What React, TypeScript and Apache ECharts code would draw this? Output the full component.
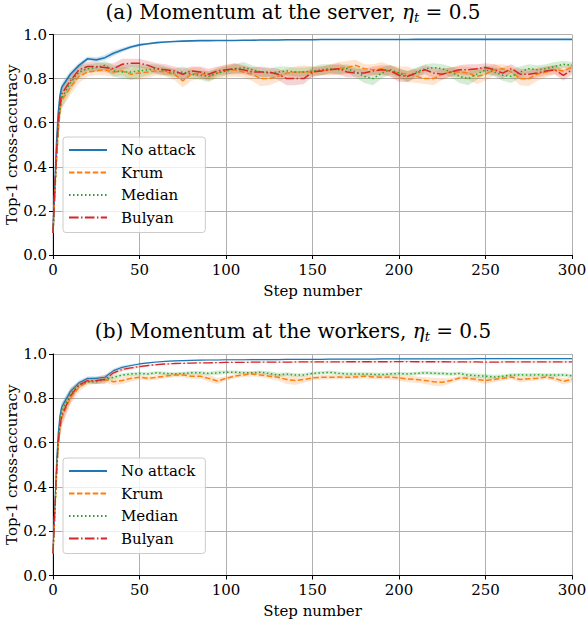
import * as echarts from 'echarts';
import { useEffect, useRef } from 'react';

// x positions of the recorded points (step number)
const STEPS = [
  0, 1, 2, 3, 4, 5, 10, 15, 20, 25,
  30, 35, 40, 45, 50, 55, 60, 65, 70, 75,
  80, 85, 90, 95, 100, 105, 110, 115, 120, 125,
  130, 135, 140, 145, 150, 155, 160, 165, 170, 175,
  180, 185, 190, 195, 200, 205, 210, 215, 220, 225,
  230, 235, 240, 245, 250, 255, 260, 265, 270, 275,
  280, 285, 290, 295, 300,
];

const METHODS = ['No attack', 'Krum', 'Median', 'Bulyan'];
const COLORS = ['#1f77b4', '#ff7f0e', '#2ca02c', '#d62728'];
const BAND_COLORS = ['rgba(31,119,180,0.2)', 'rgba(255,127,14,0.2)', 'rgba(44,160,44,0.2)', 'rgba(214,39,40,0.2)'];
const DASHES: any[] = ['solid', [5.5, 2.4], [1.5, 2.5], [9.6, 2.4, 1.5, 2.4]];

// (a) momentum at the server
const noAttackA = [
  0.10, 0.30, 0.50, 0.64, 0.72, 0.76, 0.82, 0.86, 0.89, 0.885,
  0.895, 0.915, 0.93, 0.943, 0.953, 0.958, 0.963, 0.966, 0.968, 0.970,
  0.971, 0.972, 0.972, 0.973, 0.973, 0.973, 0.974, 0.974, 0.975, 0.975,
  0.975, 0.976, 0.976, 0.976, 0.976, 0.977, 0.977, 0.977, 0.977, 0.977,
  0.977, 0.977, 0.977, 0.977, 0.977, 0.977, 0.978, 0.978, 0.978, 0.978,
  0.978, 0.978, 0.978, 0.978, 0.978, 0.978, 0.978, 0.978, 0.978, 0.978,
  0.978, 0.978, 0.978, 0.978, 0.978,
];
const noAttackSpreadA = [
  0, 0.02, 0.03, 0.03, 0.025, 0.02, 0.015, 0.012, 0.01, 0.012,
  0.012, 0.012, 0.01, 0.008, 0.006, 0.005, 0.004, 0.003, 0.003, 0.003,
  0.002, 0.002, 0.002, 0.002, 0.002, 0.002, 0.002, 0.002, 0.002, 0.002,
  0.002, 0.002, 0.002, 0.002, 0.002, 0.002, 0.002, 0.002, 0.002, 0.002,
  0.002, 0.002, 0.002, 0.002, 0.002, 0.002, 0.002, 0.002, 0.002, 0.002,
  0.002, 0.002, 0.002, 0.002, 0.002, 0.002, 0.002, 0.002, 0.002, 0.002,
  0.002, 0.002, 0.002, 0.002, 0.002,
];
const krumA = [
  0.10, 0.27, 0.42, 0.55, 0.65, 0.70, 0.76, 0.81, 0.83, 0.835,
  0.84, 0.83, 0.835, 0.82, 0.825, 0.83, 0.835, 0.83, 0.82, 0.79,
  0.82, 0.825, 0.81, 0.825, 0.835, 0.84, 0.83, 0.82, 0.80, 0.80,
  0.81, 0.825, 0.83, 0.83, 0.83, 0.835, 0.84, 0.845, 0.85, 0.86,
  0.845, 0.84, 0.845, 0.835, 0.825, 0.82, 0.81, 0.80, 0.80, 0.82,
  0.83, 0.83, 0.825, 0.81, 0.82, 0.84, 0.845, 0.83, 0.80, 0.80,
  0.82, 0.83, 0.84, 0.835, 0.85,
];
const krumSpreadA = [
  0, 0.02, 0.03, 0.04, 0.04, 0.04, 0.035, 0.03, 0.02, 0.02,
  0.025, 0.02, 0.02, 0.025, 0.03, 0.025, 0.02, 0.02, 0.025, 0.03,
  0.03, 0.025, 0.02, 0.025, 0.03, 0.03, 0.025, 0.03, 0.035, 0.03,
  0.025, 0.02, 0.025, 0.03, 0.025, 0.02, 0.025, 0.03, 0.03, 0.025,
  0.02, 0.025, 0.03, 0.025, 0.03, 0.035, 0.03, 0.025, 0.03, 0.025,
  0.02, 0.025, 0.03, 0.035, 0.03, 0.025, 0.02, 0.025, 0.03, 0.035,
  0.03, 0.025, 0.02, 0.025, 0.02,
];
const medianA = [
  0.10, 0.28, 0.44, 0.58, 0.66, 0.71, 0.78, 0.83, 0.845, 0.85,
  0.86, 0.835, 0.83, 0.83, 0.835, 0.84, 0.845, 0.835, 0.825, 0.83,
  0.82, 0.815, 0.81, 0.825, 0.835, 0.845, 0.85, 0.84, 0.83, 0.825,
  0.83, 0.835, 0.83, 0.83, 0.835, 0.84, 0.845, 0.84, 0.845, 0.83,
  0.81, 0.80, 0.825, 0.84, 0.825, 0.81, 0.83, 0.845, 0.85, 0.845,
  0.83, 0.81, 0.80, 0.82, 0.84, 0.83, 0.815, 0.81, 0.83, 0.845,
  0.84, 0.845, 0.855, 0.865, 0.86,
];
const medianSpreadA = [
  0, 0.02, 0.03, 0.04, 0.045, 0.045, 0.04, 0.03, 0.02, 0.02,
  0.02, 0.025, 0.03, 0.035, 0.03, 0.025, 0.02, 0.02, 0.02, 0.025,
  0.02, 0.02, 0.025, 0.02, 0.02, 0.02, 0.025, 0.02, 0.02, 0.02,
  0.025, 0.02, 0.02, 0.02, 0.02, 0.025, 0.02, 0.02, 0.02, 0.025,
  0.03, 0.03, 0.025, 0.02, 0.02, 0.025, 0.02, 0.02, 0.02, 0.02,
  0.025, 0.03, 0.03, 0.025, 0.02, 0.02, 0.025, 0.03, 0.025, 0.02,
  0.02, 0.02, 0.02, 0.015, 0.015,
];
const bulyanA = [
  0.10, 0.29, 0.46, 0.60, 0.68, 0.73, 0.79, 0.84, 0.855, 0.855,
  0.85, 0.845, 0.865, 0.87, 0.87, 0.86, 0.845, 0.84, 0.835, 0.82,
  0.835, 0.83, 0.82, 0.835, 0.84, 0.845, 0.84, 0.83, 0.83, 0.83,
  0.82, 0.80, 0.80, 0.80, 0.83, 0.835, 0.84, 0.845, 0.83, 0.825,
  0.825, 0.835, 0.84, 0.835, 0.815, 0.81, 0.825, 0.84, 0.825, 0.82,
  0.83, 0.84, 0.84, 0.845, 0.85, 0.84, 0.825, 0.845, 0.82, 0.82,
  0.825, 0.835, 0.84, 0.815, 0.84,
];
const bulyanSpreadA = [
  0, 0.02, 0.03, 0.035, 0.035, 0.03, 0.03, 0.025, 0.02, 0.02,
  0.02, 0.025, 0.025, 0.02, 0.02, 0.02, 0.025, 0.025, 0.02, 0.025,
  0.02, 0.025, 0.025, 0.02, 0.02, 0.025, 0.02, 0.02, 0.025, 0.02,
  0.025, 0.03, 0.03, 0.025, 0.02, 0.02, 0.02, 0.025, 0.025, 0.02,
  0.02, 0.02, 0.02, 0.025, 0.03, 0.025, 0.02, 0.02, 0.025, 0.025,
  0.02, 0.02, 0.025, 0.02, 0.02, 0.025, 0.025, 0.02, 0.025, 0.025,
  0.02, 0.02, 0.02, 0.025, 0.02,
];

// (b) momentum at the workers
const noAttackB = [
  0.10, 0.30, 0.50, 0.64, 0.72, 0.76, 0.83, 0.87, 0.89, 0.89,
  0.895, 0.925, 0.94, 0.948, 0.955, 0.96, 0.964, 0.967, 0.969, 0.970,
  0.971, 0.972, 0.973, 0.973, 0.974, 0.974, 0.974, 0.975, 0.975, 0.975,
  0.975, 0.976, 0.976, 0.976, 0.976, 0.976, 0.977, 0.977, 0.977, 0.977,
  0.977, 0.977, 0.978, 0.978, 0.978, 0.978, 0.978, 0.978, 0.978, 0.978,
  0.978, 0.978, 0.978, 0.979, 0.979, 0.979, 0.979, 0.979, 0.979, 0.979,
  0.979, 0.979, 0.979, 0.979, 0.979,
];
const noAttackSpreadB = [
  0, 0.02, 0.03, 0.03, 0.025, 0.02, 0.015, 0.012, 0.01, 0.01,
  0.01, 0.01, 0.008, 0.006, 0.005, 0.004, 0.004, 0.003, 0.003, 0.003,
  0.003, 0.003, 0.003, 0.003, 0.003, 0.003, 0.003, 0.003, 0.003, 0.003,
  0.003, 0.003, 0.003, 0.003, 0.003, 0.003, 0.003, 0.003, 0.003, 0.003,
  0.003, 0.003, 0.003, 0.003, 0.003, 0.003, 0.003, 0.003, 0.003, 0.003,
  0.003, 0.003, 0.003, 0.003, 0.003, 0.003, 0.003, 0.003, 0.003, 0.003,
  0.003, 0.003, 0.003, 0.003, 0.003,
];
const krumB = [
  0.10, 0.27, 0.44, 0.58, 0.66, 0.71, 0.80, 0.85, 0.875, 0.88,
  0.885, 0.875, 0.88, 0.89, 0.895, 0.89, 0.895, 0.90, 0.905, 0.905,
  0.90, 0.90, 0.89, 0.878, 0.89, 0.90, 0.905, 0.91, 0.905, 0.90,
  0.895, 0.885, 0.88, 0.885, 0.892, 0.895, 0.895, 0.896, 0.895, 0.896,
  0.90, 0.896, 0.895, 0.896, 0.892, 0.887, 0.885, 0.88, 0.875, 0.872,
  0.88, 0.892, 0.89, 0.885, 0.88, 0.885, 0.89, 0.896, 0.885, 0.888,
  0.89, 0.896, 0.89, 0.877, 0.885,
];
const krumSpreadB = [
  0, 0.02, 0.03, 0.035, 0.04, 0.04, 0.03, 0.02, 0.015, 0.015,
  0.015, 0.015, 0.015, 0.015, 0.01, 0.01, 0.01, 0.01, 0.01, 0.01,
  0.012, 0.012, 0.015, 0.015, 0.01, 0.01, 0.01, 0.01, 0.01, 0.012,
  0.015, 0.02, 0.02, 0.015, 0.01, 0.01, 0.01, 0.01, 0.01, 0.01,
  0.01, 0.01, 0.01, 0.012, 0.012, 0.015, 0.015, 0.015, 0.018, 0.018,
  0.012, 0.01, 0.01, 0.012, 0.015, 0.012, 0.01, 0.01, 0.012, 0.012,
  0.01, 0.01, 0.012, 0.015, 0.012,
];
const medianB = [
  0.10, 0.28, 0.45, 0.60, 0.69, 0.74, 0.82, 0.86, 0.875, 0.875,
  0.885, 0.895, 0.905, 0.91, 0.912, 0.91, 0.915, 0.912, 0.91, 0.912,
  0.915, 0.915, 0.912, 0.915, 0.918, 0.918, 0.915, 0.915, 0.918, 0.912,
  0.905, 0.91, 0.905, 0.905, 0.912, 0.915, 0.917, 0.913, 0.91, 0.91,
  0.91, 0.908, 0.907, 0.91, 0.912, 0.91, 0.912, 0.915, 0.913, 0.912,
  0.91, 0.912, 0.905, 0.902, 0.90, 0.896, 0.90, 0.905, 0.906, 0.905,
  0.906, 0.905, 0.905, 0.905, 0.902,
];
const medianSpreadB = [
  0, 0.02, 0.03, 0.035, 0.04, 0.035, 0.025, 0.015, 0.01, 0.01,
  0.01, 0.01, 0.008, 0.008, 0.008, 0.008, 0.008, 0.008, 0.008, 0.008,
  0.008, 0.008, 0.008, 0.01, 0.008, 0.008, 0.008, 0.008, 0.008, 0.01,
  0.01, 0.008, 0.008, 0.008, 0.008, 0.008, 0.008, 0.008, 0.008, 0.008,
  0.008, 0.008, 0.008, 0.008, 0.008, 0.008, 0.008, 0.008, 0.008, 0.008,
  0.008, 0.008, 0.01, 0.01, 0.01, 0.01, 0.008, 0.008, 0.008, 0.008,
  0.008, 0.008, 0.008, 0.008, 0.008,
];
const bulyanB = [
  0.10, 0.28, 0.46, 0.60, 0.67, 0.72, 0.81, 0.86, 0.88, 0.88,
  0.885, 0.915, 0.93, 0.937, 0.943, 0.948, 0.952, 0.955, 0.957, 0.958,
  0.959, 0.96, 0.96, 0.961, 0.962, 0.962, 0.962, 0.963, 0.963, 0.963,
  0.963, 0.963, 0.964, 0.964, 0.964, 0.964, 0.964, 0.964, 0.965, 0.965,
  0.965, 0.965, 0.965, 0.965, 0.966, 0.966, 0.965, 0.965, 0.965, 0.965,
  0.964, 0.964, 0.964, 0.964, 0.963, 0.963, 0.964, 0.964, 0.964, 0.964,
  0.964, 0.964, 0.964, 0.964, 0.964,
];
const bulyanSpreadB = [
  0, 0.02, 0.03, 0.035, 0.04, 0.04, 0.03, 0.015, 0.01, 0.015,
  0.02, 0.01, 0.008, 0.006, 0.005, 0.004, 0.004, 0.003, 0.003, 0.003,
  0.003, 0.003, 0.003, 0.003, 0.003, 0.003, 0.003, 0.003, 0.003, 0.003,
  0.003, 0.003, 0.003, 0.003, 0.003, 0.003, 0.003, 0.003, 0.003, 0.003,
  0.003, 0.003, 0.003, 0.003, 0.003, 0.003, 0.003, 0.003, 0.003, 0.003,
  0.003, 0.003, 0.003, 0.003, 0.003, 0.003, 0.003, 0.003, 0.003, 0.003,
  0.003, 0.003, 0.003, 0.003, 0.003,
];

const FONT = 'DejaVu Serif';

function panelSeries(g: number, means: number[][], spreads: number[][], widths: number[]) {
  const out: any[] = [];
  METHODS.forEach((name, m) => {
    const mean = means[m];
    const spread = spreads[m];
    // shaded band: polygon along the upper edge, back along the lower edge
    out.push({
      type: 'custom',
      name: `${name} band ${g}`,
      xAxisIndex: g * 2,
      yAxisIndex: g * 2,
      silent: true,
      data: [[0, 0]],
      renderItem: (_params: any, api: any) => {
        const upper = STEPS.map((s, i) => api.coord([s, mean[i] + spread[i]]));
        const lower = STEPS.map((s, i) => api.coord([s, mean[i] - spread[i]])).reverse();
        return {
          type: 'polygon',
          shape: { points: [...upper, ...lower] },
          style: { fill: BAND_COLORS[m], stroke: 'none' },
          silent: true,
        };
      },
    });
    out.push({
      type: 'line',
      name,
      xAxisIndex: g * 2,
      yAxisIndex: g * 2,
      symbol: 'none',
      silent: true,
      color: COLORS[m],
      lineStyle: { color: COLORS[m], width: widths[m], type: DASHES[m] },
      data: STEPS.map((s, i) => [s, mean[i]]),
    });
  });
  return out;
}

function axesFor(g: number) {
  const xMain = {
    type: 'value',
    gridIndex: g,
    min: 0,
    max: 300,
    interval: 50,
    name: 'Step number',
    nameLocation: 'middle',
    nameGap: 28,
    nameMoveOverlap: false,
    nameTextStyle: { fontFamily: FONT, fontSize: 15, color: '#000' },
    axisLine: { show: true, lineStyle: { color: '#000', width: 1 } },
    axisTick: { show: true, length: 4, lineStyle: { color: '#000' } },
    axisLabel: { fontFamily: FONT, fontSize: 15, color: '#000', margin: 7 },
    splitLine: { show: true, lineStyle: { color: '#b0b0b0', width: 1 } },
  };
  const xTop = {
    type: 'value',
    gridIndex: g,
    position: 'top',
    min: 0,
    max: 300,
    axisLine: { show: true, lineStyle: { color: '#000', width: 1 } },
    axisTick: { show: false },
    axisLabel: { show: false },
    splitLine: { show: false },
  };
  const yMain = {
    type: 'value',
    gridIndex: g,
    min: 0,
    max: 1,
    interval: 0.2,
    name: 'Top-1 cross-accuracy',
    nameLocation: 'middle',
    nameGap: 34,
    nameMoveOverlap: false,
    nameTextStyle: { fontFamily: FONT, fontSize: 15, color: '#000' },
    axisLine: { show: true, lineStyle: { color: '#cfcfcf', width: 1.5 } },
    axisTick: { show: true, length: 4, lineStyle: { color: '#000' } },
    axisLabel: {
      fontFamily: FONT,
      fontSize: 15,
      color: '#000',
      margin: 6,
      formatter: (v: number) => v.toFixed(1),
    },
    splitLine: { show: true, lineStyle: { color: '#b0b0b0', width: 1 } },
  };
  const yRight = {
    type: 'value',
    gridIndex: g,
    position: 'right',
    min: 0,
    max: 1,
    axisLine: { show: true, lineStyle: { color: '#000', width: 1 } },
    axisTick: { show: false },
    axisLabel: { show: false },
    splitLine: { show: false },
  };
  return { x: [xMain, xTop], y: [yMain, yRight] };
}

function legendFor(top: number) {
  return {
    left: 63,
    top,
    orient: 'vertical',
    selectedMode: false,
    data: METHODS,
    itemWidth: 38,
    itemHeight: 18,
    itemGap: 7.5,
    padding: [5.5, 10, 7.5, 5],
    backgroundColor: 'rgba(255,255,255,0.8)',
    borderColor: '#cccccc',
    borderWidth: 1,
    borderRadius: 3,
    itemStyle: { opacity: 0 },
    lineStyle: { opacity: 1 },
    textStyle: { fontFamily: FONT, fontSize: 15, color: '#000', padding: [0, 0, 0, 9] },
  };
}

function titleFor(text: string, top: number) {
  return {
    text,
    left: 'center',
    top,
    padding: 0,
    textStyle: {
      fontFamily: FONT,
      fontSize: 20,
      fontWeight: 'normal',
      color: '#000',
      lineHeight: 24,
      rich: {
        it: { fontFamily: FONT, fontSize: 20, fontStyle: 'italic', color: '#000', lineHeight: 24 },
        sub: { fontFamily: FONT, fontSize: 13, fontStyle: 'italic', color: '#000', lineHeight: 13, verticalAlign: 'bottom' },
      },
    },
  };
}

export default function App() {
  const chartRef = useRef<HTMLDivElement>(null);

  useEffect(() => {
    document.body.style.margin = '0';
    if (!chartRef.current) return;
    const chart = echarts.init(chartRef.current, undefined, { renderer: 'svg' });

    const a = axesFor(0);
    const b = axesFor(1);

    chart.setOption({
      animation: false,
      backgroundColor: '#fff',
      textStyle: { fontFamily: FONT },
      title: [
        titleFor('(a) Momentum at the server, {it|η}{sub|t} = 0.5', 0),
        titleFor('(b) Momentum at the workers, {it|η}{sub|t} = 0.5', 319),
      ],
      legend: [legendFor(137), legendFor(458)],
      grid: [
        { left: 53, right: 14, top: 34.5, height: 220.5, containLabel: false, outerBoundsMode: 'none' },
        { left: 53, right: 14, top: 354, height: 221.5, containLabel: false, outerBoundsMode: 'none' },
      ],
      xAxis: [...a.x, ...b.x],
      yAxis: [...a.y, ...b.y],
      series: [
        ...panelSeries(
          0,
          [noAttackA, krumA, medianA, bulyanA],
          [noAttackSpreadA, krumSpreadA, medianSpreadA, bulyanSpreadA],
          [1.6, 1.5, 1.5, 1.5],
        ),
        ...panelSeries(
          1,
          [noAttackB, krumB, medianB, bulyanB],
          [noAttackSpreadB, krumSpreadB, medianSpreadB, bulyanSpreadB],
          [1.2, 1.5, 1.5, 1.3],
        ),
      ],
    });

    return () => {
      chart.dispose();
    };
  }, []);

  return <div ref={chartRef} style={{ width: 586, height: 622 }} />;
}
